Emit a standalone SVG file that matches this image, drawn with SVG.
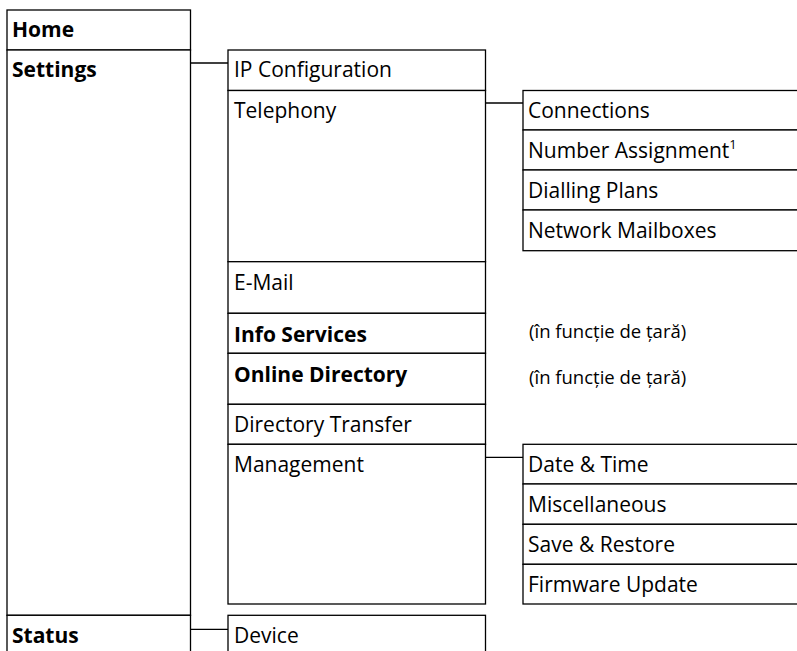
<svg xmlns="http://www.w3.org/2000/svg" width="797" height="651" viewBox="0 0 797 651">
<style>
rect{fill:#fff;stroke:#000;stroke-width:1.3}
.c line{stroke:#000;stroke-width:1.3}
text{font-family:"Open Sans","Noto Sans","Liberation Sans",sans-serif;font-size:21px;fill:#000}
.b{font-weight:bold}
.s{font-size:18.5px}
.sup{font-size:13px}
</style>
<rect x="-10" y="-10" width="820" height="670" style="stroke:none"/>
<g id="connectors" class="c">
<line x1="190.5" y1="63" x2="228" y2="63"/>
<line x1="485.5" y1="103" x2="523" y2="103"/>
<line x1="485.5" y1="457.3" x2="523" y2="457.3"/>
<line x1="190.5" y1="629.3" x2="228" y2="629.3"/>
</g>
<g id="home"><rect x="7" y="10" width="183.5" height="40"/><text class="b" x="12" y="37">Home</text></g>
<g id="settings"><rect x="7" y="50" width="183.5" height="565.3"/><text class="b" x="12" y="77">Settings</text></g>
<g id="status"><rect x="7" y="615.3" width="183.5" height="60"/><text class="b" x="12" y="642.5">Status</text></g>
<g id="ip-configuration"><rect x="228" y="50" width="257.5" height="40.5"/><text x="234" y="77">IP Configuration</text></g>
<g id="telephony"><rect x="228" y="90.5" width="257.5" height="171.2"/><text x="234" y="117.5">Telephony</text></g>
<g id="e-mail"><rect x="228" y="261.7" width="257.5" height="51.6"/><text x="234" y="289.5">E-Mail</text></g>
<g id="info-services"><rect x="228" y="313.3" width="257.5" height="40"/><text class="b" x="234" y="341.5">Info Services</text></g>
<g id="online-directory"><rect x="228" y="353.3" width="257.5" height="51"/><text class="b" x="234" y="381.5">Online Directory</text></g>
<g id="directory-transfer"><rect x="228" y="404.3" width="257.5" height="40"/><text x="234" y="431.5">Directory Transfer</text></g>
<g id="management"><rect x="228" y="444.3" width="257.5" height="159.7"/><text x="234" y="471.5">Management</text></g>
<g id="device"><rect x="228" y="615.3" width="257.5" height="60"/><text x="234" y="642.5">Device</text></g>
<g id="connections"><rect x="523" y="90.5" width="290" height="39.5"/><text x="528" y="117.5">Connections</text></g>
<g id="number-assignment"><rect x="523" y="130" width="290" height="40"/><text x="528" y="157.5">Number Assignment<tspan class="sup" dy="-9">1</tspan></text></g>
<g id="dialling-plans"><rect x="523" y="170" width="290" height="40"/><text x="528" y="197.5">Dialling Plans</text></g>
<g id="network-mailboxes"><rect x="523" y="210" width="290" height="40.7"/><text x="528" y="237.5">Network Mailboxes</text></g>
<g id="date-time"><rect x="523" y="444.3" width="290" height="39.7"/><text x="528" y="471.5">Date &amp; Time</text></g>
<g id="miscellaneous"><rect x="523" y="484" width="290" height="40.3"/><text x="528" y="511.5">Miscellaneous</text></g>
<g id="save-restore"><rect x="523" y="524.3" width="290" height="40"/><text x="528" y="551.5">Save &amp; Restore</text></g>
<g id="firmware-update"><rect x="523" y="564.3" width="290" height="39.7"/><text x="528" y="591.5">Firmware Update</text></g>
<g id="notes">
<text class="s" x="529" y="337.5">(în funcție de țară)</text>
<text class="s" x="529" y="383.5">(în funcție de țară)</text>
</g>
</svg>
